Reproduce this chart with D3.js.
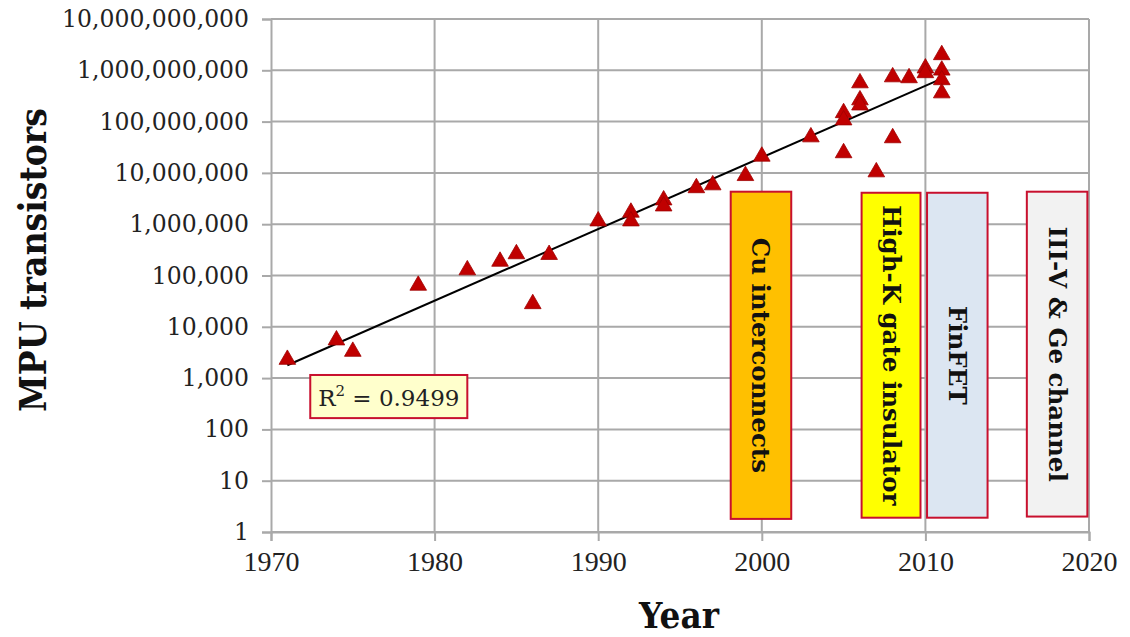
<!DOCTYPE html>
<html>
<head>
<meta charset="utf-8">
<script src="https://cdn.jsdelivr.net/npm/d3@7"></script>
<style>
  html, body { margin: 0; padding: 0; background: #fff; }
  svg { display: block; }
</style>
</head>
<body>
<svg id="chart" width="1130" height="637"></svg>
<script>
// ---------------- data ----------------
const years = [1971, 1974, 1975, 1979, 1982, 1984, 1985, 1986, 1987, 1990,
  1992, 1992, 1994, 1994, 1996, 1997, 1999, 2000, 2003,
  2005, 2005, 2005, 2006, 2006, 2006, 2007, 2008, 2008, 2009,
  2010, 2010, 2011, 2011, 2011, 2011];
const transistors = [2300, 5500, 3300, 64000, 128000, 188000, 263000, 28000, 255000, 1150000,
  1700000, 1150000, 2950000, 2250000, 5100000, 5800000, 8800000, 21000000, 50000000,
  148000000, 107000000, 24500000, 565000000, 263000000, 209000000, 10400000, 740000000, 48000000, 710000000,
  1100000000, 890000000, 2000000000, 1000000000, 650000000, 360000000];

const yTickValues = [1, 10, 100, 1000, 10000, 100000, 1000000, 10000000, 100000000, 1000000000, 10000000000];
const xTickValues = [1970, 1980, 1990, 2000, 2010, 2020];

const techLabels = ["Cu interconnects", "High-K gate insulator", "FinFET", "III-V & Ge channel"];
const techStart  = [1998.1, 2006.1, 2010.1, 2016.2];
const techEnd    = [2001.8, 2009.7, 2013.8, 2019.9];
const techTop    = [4.3e6, 4.1e6, 4.1e6, 4.3e6];
const techBottom = [1.8, 1.9, 1.9, 2.0];
const techFill   = ["#FFC000", "#FFFF00", "#DCE6F2", "#F2F2F2"];

const trendRange = [1971, 2011];
const r2Label = "0.9499";

// ---------------- layout ----------------
const W = 1130, H = 637;
const margin = { left: 271, right: 41, top: 19, bottom: 105 };
const svg = d3.select("#chart");

const x = d3.scaleLinear().domain([1970, 2020]).range([margin.left, W - margin.right]);
const y = d3.scaleLog().domain([1, 1e10]).range([H - margin.bottom, margin.top]);

const gridColor = "#A9A9A9";

// gridlines
svg.append("g").selectAll("line.h").data(yTickValues).join("line")
  .attr("x1", x(1970)).attr("x2", x(2020))
  .attr("y1", d => y(d)).attr("y2", d => y(d))
  .attr("stroke", gridColor).attr("stroke-width", 2);
svg.append("g").selectAll("line.v").data(xTickValues.slice(1)).join("line")
  .attr("x1", d => x(d)).attr("x2", d => x(d))
  .attr("y1", y(1e10)).attr("y2", y(1))
  .attr("stroke", gridColor).attr("stroke-width", 2);

// axes
const yAxis = d3.axisLeft(y).tickValues(yTickValues).tickFormat(d3.format(","))
  .tickSize(9).tickPadding(13);
const gy = svg.append("g").attr("transform", `translate(${x(1970)},0)`).call(yAxis);
gy.select(".domain").attr("stroke", gridColor).attr("stroke-width", 2);
gy.selectAll(".tick line").attr("stroke", gridColor).attr("stroke-width", 2);
gy.selectAll(".tick text").attr("font-family", "DejaVu Serif").attr("font-size", 23.5)
  .attr("fill", "#222");

const xAxis = d3.axisBottom(x).tickValues(xTickValues).tickFormat(d3.format("d"))
  .tickSize(9).tickPadding(10);
const gx = svg.append("g").attr("transform", `translate(0,${y(1)})`).call(xAxis);
gx.select(".domain").attr("stroke", gridColor).attr("stroke-width", 2);
gx.selectAll(".tick line").attr("stroke", gridColor).attr("stroke-width", 2);
gx.selectAll(".tick text").attr("font-family", "Liberation Serif").attr("font-size", 28)
  .attr("fill", "#222");

// technology boxes
const techData = techLabels.map((t, i) => ({ label: t, x0: techStart[i], x1: techEnd[i], top: techTop[i], bottom: techBottom[i], fill: techFill[i] }));
const tg = svg.append("g").selectAll("g").data(techData).join("g");
tg.append("rect")
  .attr("x", d => x(d.x0)).attr("width", d => x(d.x1) - x(d.x0))
  .attr("y", d => y(d.top)).attr("height", d => y(d.bottom) - y(d.top))
  .attr("fill", d => d.fill).attr("stroke", "#C8102E").attr("stroke-width", 2);
tg.append("text")
  .attr("transform", d => `translate(${(x(d.x0) + x(d.x1)) / 2},${(y(d.top) + y(d.bottom)) / 2}) rotate(90)`)
  .attr("text-anchor", "middle").attr("dominant-baseline", "central")
  .attr("font-family", "DejaVu Serif").attr("font-weight", "bold").attr("font-size", 24.5)
  .attr("fill", "#111")
  .text(d => d.label);

// regression trend line (least squares on log10)
const lx = years, ly = transistors.map(v => Math.log10(v));
const mx = d3.mean(lx), my = d3.mean(ly);
const slope = d3.sum(lx.map((v, i) => (v - mx) * (ly[i] - my))) / d3.sum(lx.map(v => (v - mx) ** 2));
const intercept = my - slope * mx;
const trend = trendRange.map(t => [t, Math.pow(10, intercept + slope * t)]);
svg.append("path")
  .datum(trend)
  .attr("d", d3.line().x(d => x(d[0])).y(d => y(d[1])))
  .attr("stroke", "#000").attr("stroke-width", 2).attr("fill", "none");

// points
svg.append("g").selectAll("path").data(years.map((yr, i) => [yr, transistors[i]])).join("path")
  .attr("transform", d => `translate(${x(d[0])},${y(d[1])})`)
  .attr("d", d3.symbol().type(d3.symbolTriangle).size(120))
  .attr("fill", "#C00000").attr("stroke", "#A00000").attr("stroke-width", 0.8);

// R^2 box
const r2x0 = 1972.4, r2x1 = 1982.0, r2top = 1150, r2bottom = 166;
svg.append("rect")
  .attr("x", x(r2x0)).attr("width", x(r2x1) - x(r2x0))
  .attr("y", y(r2top)).attr("height", y(r2bottom) - y(r2top))
  .attr("fill", "#FFFFCC").attr("stroke", "#C8102E").attr("stroke-width", 2);
const r2t = svg.append("text")
  .attr("x", (x(r2x0) + x(r2x1)) / 2).attr("y", (y(r2top) + y(r2bottom)) / 2 + 9)
  .attr("text-anchor", "middle")
  .attr("font-family", "DejaVu Serif").attr("font-size", 23).attr("fill", "#222");
r2t.append("tspan").text("R");
r2t.append("tspan").attr("font-size", 15).attr("dy", -10).text("2");
r2t.append("tspan").attr("dy", 10).text(" = " + r2Label);

// axis titles
svg.append("text")
  .attr("transform", `translate(46,260) rotate(-90)`)
  .attr("text-anchor", "middle")
  .attr("font-family", "DejaVu Serif").attr("font-weight", "bold").attr("font-size", 38)
  .attr("textLength", 304).attr("lengthAdjust", "spacingAndGlyphs")
  .attr("fill", "#111")
  .text("MPU transistors");
svg.append("text")
  .attr("x", 679).attr("y", 628)
  .attr("text-anchor", "middle")
  .attr("font-family", "DejaVu Serif").attr("font-weight", "bold").attr("font-size", 35)
  .attr("textLength", 80).attr("lengthAdjust", "spacingAndGlyphs")
  .attr("fill", "#111")
  .text("Year");
</script>
</body>
</html>
